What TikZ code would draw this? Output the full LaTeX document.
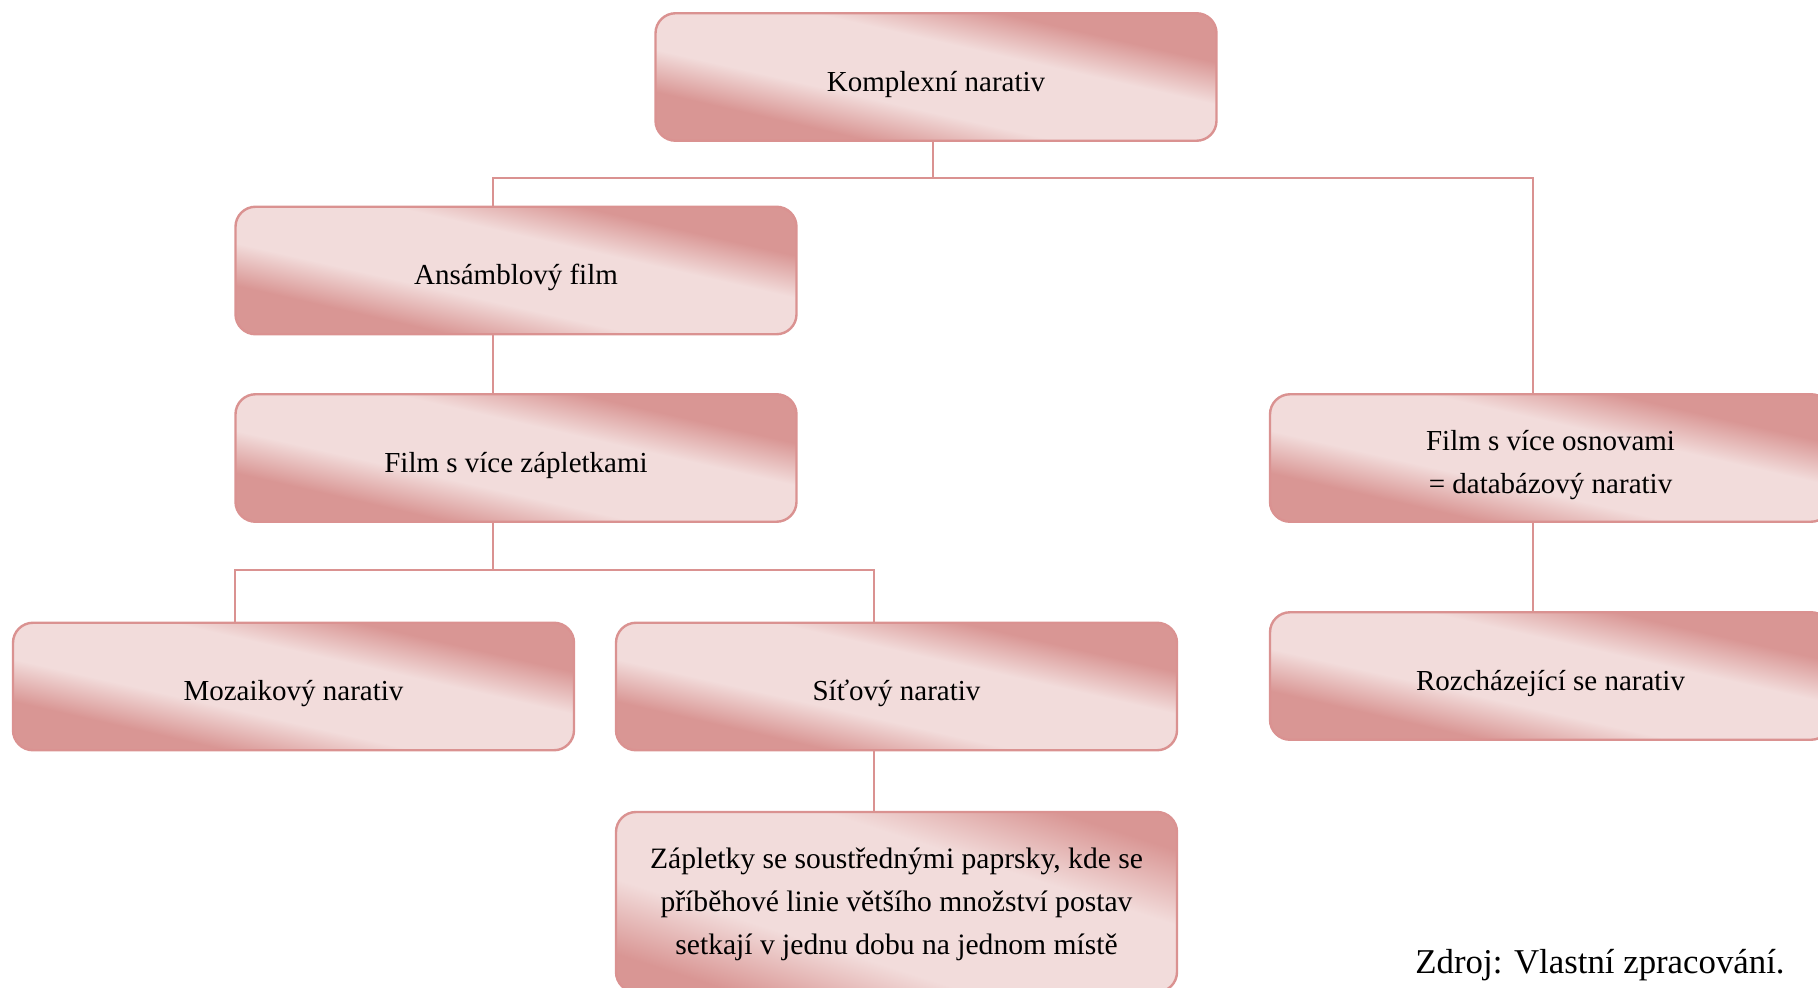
\documentclass[tikz,border=0pt]{standalone}
\usepackage{fontspec}
\setmainfont{Liberation Serif}
\usepackage{tikz}
\definecolor{boxdark}{RGB}{217,150,148}
\definecolor{boxlight}{RGB}{242,220,219}
\definecolor{boxedge}{RGB}{218,146,145}
\pgfdeclareverticalshading{narshade}{100bp}{color(0bp)=(boxdark); color(25bp)=(boxdark);
  color(31.5bp)=(boxdark); color(41.5bp)=(boxlight); color(58.5bp)=(boxlight);
  color(68.5bp)=(boxdark); color(75bp)=(boxdark); color(100bp)=(boxdark)}
\pgfdeclareverticalshading{narshadetall}{100bp}{color(0bp)=(boxdark); color(25.3bp)=(boxdark);
  color(38.4bp)=(boxlight); color(61.6bp)=(boxlight); color(74.7bp)=(boxdark); color(100bp)=(boxdark)}
\tikzset{
  narbox/.style={rectangle, rounded corners=10pt, draw=boxedge, line width=1.2pt,
    shading=narshade, shading angle=-12.8,
    minimum width=280.5pt, minimum height=63.75pt, inner sep=0pt, align=center,
    font=\fontsize{14.5}{21.5}\selectfont},
  lowtext/.style={execute at begin node={\rule[-3.2pt]{0pt}{20.5pt}}},
  link/.style={draw=boxedge, line width=1pt},
}
\begin{document}
\begin{tikzpicture}[x=0.5pt, y=-0.5pt]
  \useasboundingbox (0,0) rectangle (1818,988);
  \clip (0,0) rectangle (1818,988);
  \node[narbox, lowtext] (top) at (936,77) {Komplexní narativ};
  \node[narbox, lowtext] (ans) at (516,270.5) {Ansámblový film};
  \node[narbox, lowtext] (plots) at (516,458) {Film s více zápletkami};
  \node[narbox, lowtext] (moz) at (293.5,686.5) {Mozaikový narativ};
  \node[narbox, lowtext] (sit) at (896.5,686.5) {Síťový narativ};
  \node[narbox, minimum height=90pt, shading=narshadetall, shading angle=-17.8, font=\fontsize{14.8}{21.5}\selectfont] (zap) at (896.5,902) {\rule{0pt}{12.5pt}Zápletky se soustřednými paprsky, kde se\\příběhové linie většího množství postav\\setkají v jednu dobu na jednom místě};
  \node[narbox] (osn) at (1550.5,458) {\rule{0pt}{17pt}Film s více osnovami\\= databázový narativ};
  \node[narbox, lowtext] (roz) at (1550.5,676) {Rozcházející se narativ};
  \draw[link] ([xshift=-1.5pt]top.south) -- ++(0,36) coordinate (tj);
  \draw[link] ([xshift=-11.5pt]ans.north) |- (tj) -| ([xshift=-8.75pt]osn.north);
  \draw[link] ([xshift=-11.5pt]ans.south) -- ([xshift=-11.5pt]plots.north);
  \draw[link] ([xshift=-11.5pt]plots.south) -- ++(0,47) coordinate (pj);
  \draw[link] ([xshift=-29.25pt]moz.north) |- (pj) -| ([xshift=-11.25pt]sit.north);
  \draw[link] ([xshift=-11.25pt]sit.south) -- ([xshift=-11.25pt]zap.north);
  \draw[link] ([xshift=-8.75pt]osn.south) -- ([xshift=-8.75pt]roz.north);
  \node[anchor=east, inner sep=0pt, font=\fontsize{17.4}{21}\selectfont] (src) at (1785,965) {Zdroj: Vlastní zpracování.};
\end{tikzpicture}
\end{document}
